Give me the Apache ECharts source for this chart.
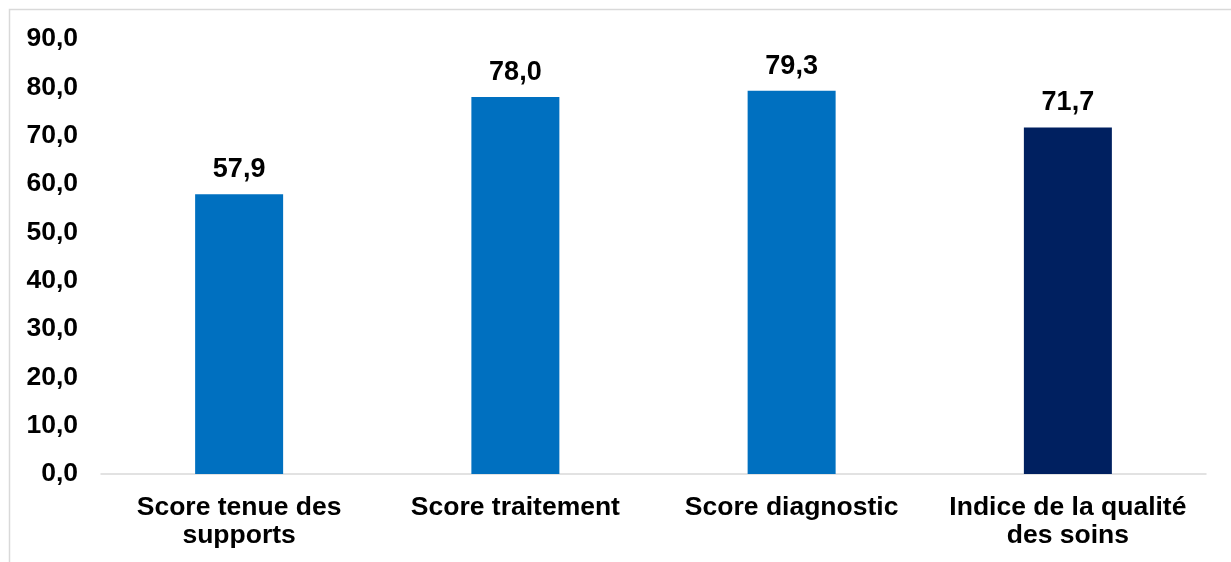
<!DOCTYPE html>
<html>
<head>
<meta charset="utf-8">
<script src="https://cdn.jsdelivr.net/npm/echarts@6/dist/echarts.min.js"></script>
<style>
html,body{margin:0;padding:0;background:#fff;}
#chart{width:1231px;height:562px;}
</style>
</head>
<body>
<div id="chart"></div>
<script>
const categories = ["Score tenue des\nsupports", "Score traitement", "Score diagnostic", "Indice de la qualité\ndes soins"];
const values = [57.9, 78.0, 79.3, 71.7];
const barColors = ["#0070C0", "#0070C0", "#0070C0", "#002060"];
const yMin = 0, yMax = 90, yInterval = 10;

const FONT = "'Liberation Sans', Arial, sans-serif";
const chart = echarts.init(document.getElementById('chart'));
chart.setOption({
  animation: false,
  backgroundColor: '#fff',
  graphic: [{
    type: 'rect', silent: true, z: -1,
    shape: { x: 9.5, y: 9.5, width: 1400, height: 800 },
    style: { fill: 'none', stroke: '#d9d9d9', lineWidth: 1.5 }
  }],
  grid: { left: 101, right: 25, top: 39, bottom: 88, containLabel: false },
  xAxis: {
    type: 'category',
    data: categories,
    axisLine: { show: true, lineStyle: { color: '#d9d9d9', width: 1.5 } },
    axisTick: { show: false },
    axisLabel: {
      color: '#000', fontFamily: FONT, fontWeight: 'bold', fontSize: 26.5,
      lineHeight: 28, margin: 20, interval: 0
    }
  },
  yAxis: {
    type: 'value', min: yMin, max: yMax, interval: yInterval,
    splitLine: { show: false },
    axisLine: { show: false },
    axisTick: { show: false },
    axisLabel: {
      color: '#000', fontFamily: FONT, fontWeight: 'bold', fontSize: 26.5, margin: 23,
      formatter: v => v.toFixed(1).replace('.', ',')
    }
  },
  series: [{
    type: 'bar',
    data: values.map((v, i) => ({ value: v, itemStyle: { color: barColors[i] } })),
    barWidth: 88,
    label: {
      show: true, position: 'top', distance: 11,
      color: '#000', fontFamily: FONT, fontWeight: 'bold', fontSize: 27,
      formatter: p => p.value.toFixed(1).replace('.', ',')
    }
  }]
});
</script>
</body>
</html>
